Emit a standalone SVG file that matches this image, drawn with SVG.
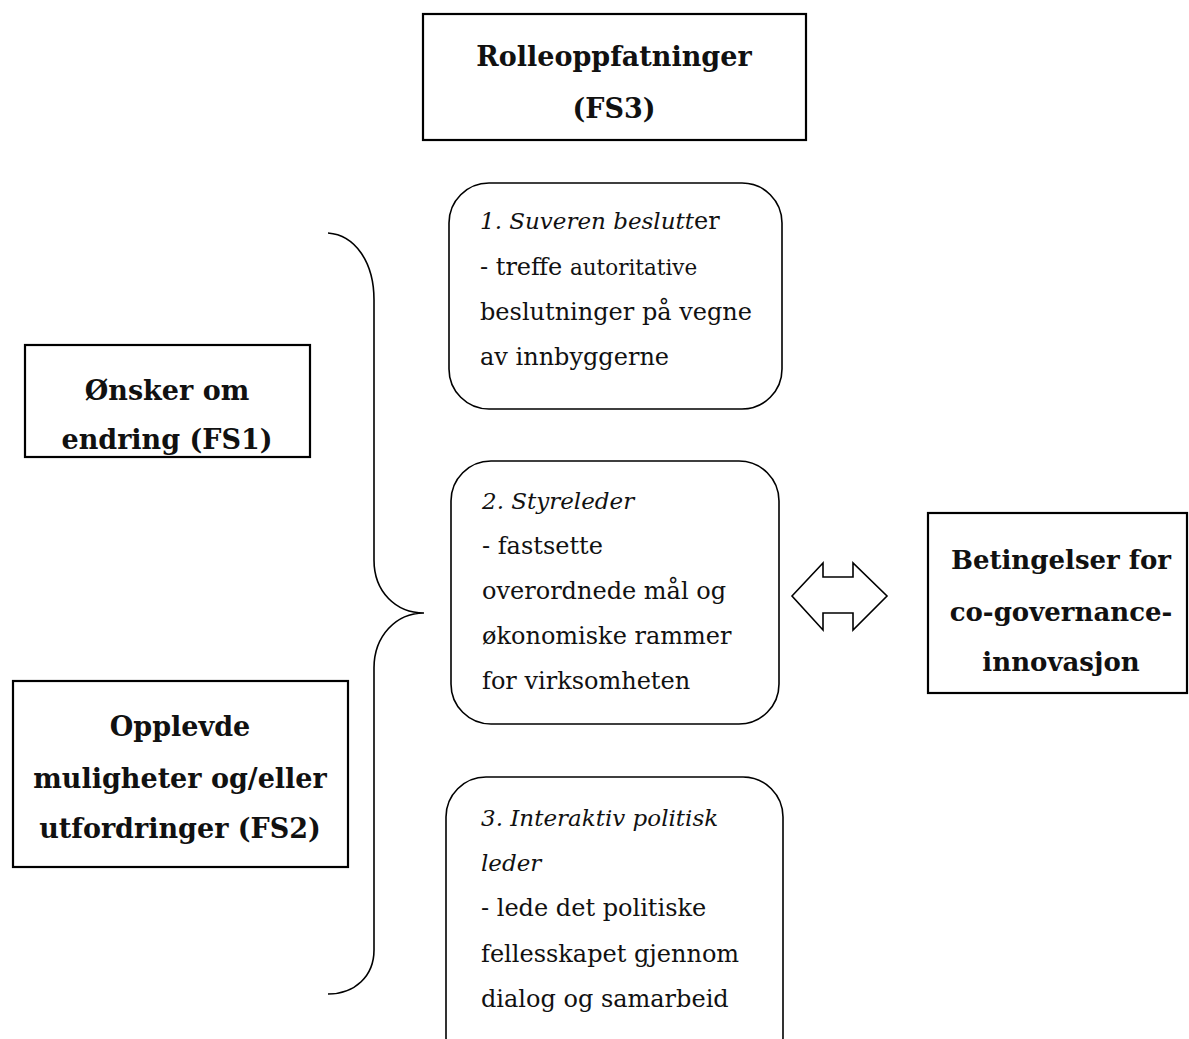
<svg xmlns="http://www.w3.org/2000/svg" width="1189" height="1039" viewBox="0 0 1189 1039">
  <style>
    .box { fill: #fff; stroke: #000; stroke-width: 2.2; }
    .rbox { fill: #fff; stroke: #000; stroke-width: 1.6; }
    .head { font-family: Georgia, "DejaVu Serif", serif; font-weight: bold; font-size: 27px; fill: #111; text-anchor: middle; }
    .body { font-family: Georgia, "DejaVu Serif", serif; font-size: 24px; fill: #111; }
    .it { font-style: italic; font-size: 23px; }
    .small { font-size: 21.5px; }
    .line { fill: none; stroke: #000; stroke-width: 1.6; }
  </style>
  <rect width="1189" height="1039" fill="#fff"/>

  <g id="connectors">
    <!-- brace gathering the two left-hand factors -->
    <path class="line" d="M328,233 C355,235 374,262 374,300 L374,560 C374,592 396,613 424,613 C396,613 374,636 374,668 L374,950 C374,976 355,994 328,994"/>
    <!-- two-way block arrow -->
    <path class="line" d="M792,596 L823,563 L823,577 L853,577 L853,563 L887,596 L853,630 L853,613 L823,613 L823,630 Z" stroke-width="2"/>
  </g>

  <g id="node-roles">
    <rect class="box" x="423" y="14" width="383" height="126"/>
    <text class="head" x="614" y="66">Rolleoppfatninger</text>
    <text class="head" x="614" y="118">(FS3)</text>
  </g>

  <g id="node-sovereign">
    <rect class="rbox" x="449" y="183" width="333" height="226" rx="40" ry="40"/>
    <text class="body" x="480" y="229"><tspan class="it">1. Suveren beslutt</tspan>er</text>
    <text class="body" x="480" y="275">- treffe <tspan class="small">autoritative</tspan></text>
    <text class="body" x="480" y="320">beslutninger på vegne</text>
    <text class="body" x="480" y="365">av innbyggerne</text>
  </g>

  <g id="node-chair">
    <rect class="rbox" x="451" y="461" width="328" height="263" rx="40" ry="40"/>
    <text class="body it" x="482" y="509">2. Styreleder</text>
    <text class="body" x="482" y="554">- fastsette</text>
    <text class="body" x="482" y="599">overordnede mål og</text>
    <text class="body" x="482" y="644">økonomiske rammer</text>
    <text class="body" x="482" y="689">for virksomheten</text>
  </g>

  <g id="node-interactive">
    <rect class="rbox" x="446" y="777" width="337" height="300" rx="40" ry="40"/>
    <text class="body it" x="481" y="826">3. Interaktiv politisk</text>
    <text class="body it" x="481" y="871">leder</text>
    <text class="body" x="481" y="916">- lede det politiske</text>
    <text class="body" x="481" y="962">fellesskapet gjennom</text>
    <text class="body" x="481" y="1007">dialog og samarbeid</text>
  </g>

  <g id="node-change">
    <rect class="box" x="25" y="345" width="285" height="112"/>
    <text class="head" x="167" y="400">Ønsker om</text>
    <text class="head" x="167" y="449">endring (FS1)</text>
  </g>

  <g id="node-opportunities">
    <rect class="box" x="13" y="681" width="335" height="186"/>
    <text class="head" x="180" y="736">Opplevde</text>
    <text class="head" x="180" y="788">muligheter og/eller</text>
    <text class="head" x="180" y="838">utfordringer (FS2)</text>
  </g>

  <g id="node-conditions">
    <rect class="box" x="928" y="513" width="259" height="180"/>
    <text class="head" x="1061" y="569" style="font-size:26px">Betingelser for</text>
    <text class="head" x="1061" y="621" style="font-size:26px">co-governance-</text>
    <text class="head" x="1061" y="671" style="font-size:26px">innovasjon</text>
  </g>
</svg>
